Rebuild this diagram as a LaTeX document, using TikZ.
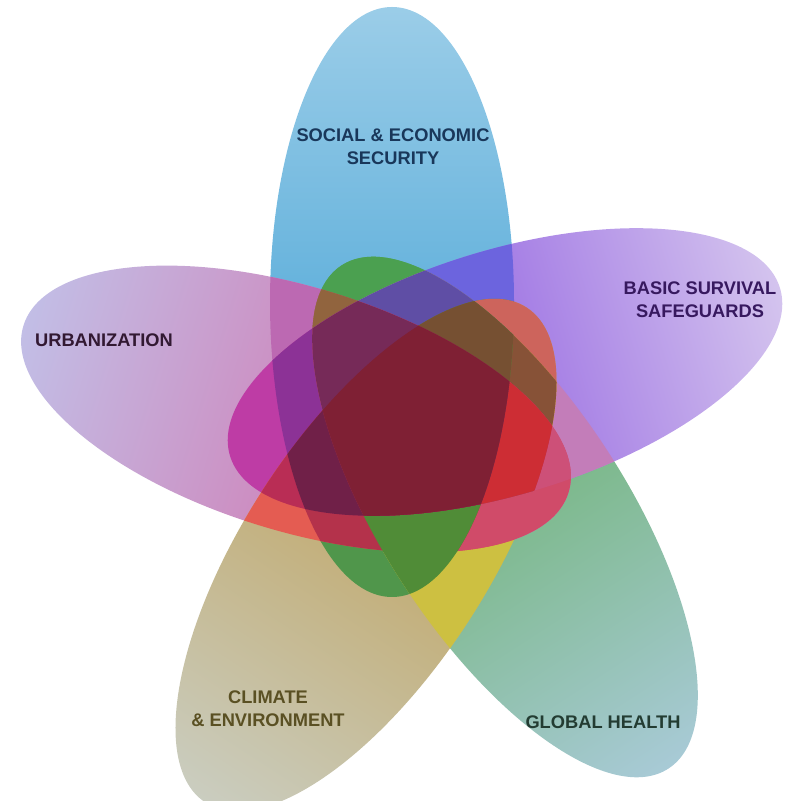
\documentclass[tikz,border=0pt]{standalone}
\usepackage{fontspec}
\setmainfont{Liberation Sans}

% petal colours: inner end, middle, tip
\definecolor{blueIn}{RGB}{70,150,205}
\definecolor{blueMid}{RGB}{100,178,220}
\definecolor{blueTip}{RGB}{155,205,232}
\definecolor{purpleIn}{RGB}{150,80,215}
\definecolor{purpleMid}{RGB}{160,118,228}
\definecolor{purpleTip}{RGB}{212,196,238}
\definecolor{greenIn}{RGB}{90,170,110}
\definecolor{greenMid}{RGB}{125,185,140}
\definecolor{greenTip}{RGB}{168,202,214}
\definecolor{oliveIn}{RGB}{190,160,100}
\definecolor{oliveMid}{RGB}{195,175,122}
\definecolor{oliveTip}{RGB}{202,205,192}
\definecolor{pinkIn}{RGB}{205,100,170}
\definecolor{pinkMid}{RGB}{205,140,192}
\definecolor{pinkTip}{RGB}{194,190,230}

% overlap colours (B blue, P purple, G green, O olive, K pink)
\definecolor{cBP}{RGB}{108,100,222}
\definecolor{cBK}{RGB}{188,105,178}
\definecolor{cBG}{RGB}{75,160,80}
\definecolor{cBO}{RGB}{80,150,75}
\definecolor{cPK}{RGB}{190,60,165}
\definecolor{cPG}{RGB}{195,125,185}
\definecolor{cPO}{RGB}{205,100,92}
\definecolor{cGO}{RGB}{205,192,65}
\definecolor{cKO}{RGB}{228,92,82}
\definecolor{cGK}{RGB}{208,75,105}
\definecolor{cBGK}{RGB}{145,100,62}
\definecolor{cBGP}{RGB}{95,78,165}
\definecolor{cBKP}{RGB}{140,50,150}
\definecolor{cBKO}{RGB}{180,50,75}
\definecolor{cGPO}{RGB}{135,82,55}
\definecolor{cGKP}{RGB}{205,80,120}
\definecolor{cBGO}{RGB}{80,140,55}
\definecolor{cKPO}{RGB}{185,45,85}
\definecolor{cBGPO}{RGB}{118,80,50}
\definecolor{cBKPO}{RGB}{112,32,72}
\definecolor{cGKPO}{RGB}{205,45,52}
\definecolor{cBGKP}{RGB}{118,42,88}
\definecolor{cAll}{RGB}{127,32,52}

\definecolor{textBlue}{RGB}{25,55,90}
\definecolor{textPurple}{RGB}{55,25,95}
\definecolor{textPink}{RGB}{50,25,50}
\definecolor{textOlive}{RGB}{90,80,35}
\definecolor{textGreen}{RGB}{35,60,50}

% shading runs from the inner end (left) to the tip (right)
\pgfdeclarehorizontalshading{blueshade}{100bp}{color(0bp)=(blueIn); color(25bp)=(blueIn); color(50bp)=(blueMid); color(75bp)=(blueTip); color(100bp)=(blueTip)}
\pgfdeclarehorizontalshading{purpleshade}{100bp}{color(0bp)=(purpleIn); color(25bp)=(purpleIn); color(50bp)=(purpleMid); color(75bp)=(purpleTip); color(100bp)=(purpleTip)}
\pgfdeclarehorizontalshading{greenshade}{100bp}{color(0bp)=(greenIn); color(25bp)=(greenIn); color(50bp)=(greenMid); color(75bp)=(greenTip); color(100bp)=(greenTip)}
\pgfdeclarehorizontalshading{oliveshade}{100bp}{color(0bp)=(oliveIn); color(25bp)=(oliveIn); color(50bp)=(oliveMid); color(75bp)=(oliveTip); color(100bp)=(oliveTip)}
\pgfdeclarehorizontalshading{pinkshade}{100bp}{color(0bp)=(pinkIn); color(25bp)=(pinkIn); color(50bp)=(pinkMid); color(75bp)=(pinkTip); color(100bp)=(pinkTip)}

\tikzset{
  petaltext/.style={font=\fontsize{10.4}{13.2}\selectfont\bfseries, align=center}
}

% \petal(centre)(angle)(half length){shading}
\def\petal(#1)(#2)(#3)#4{%
  \begin{scope}[transform canvas={shift={(#1)},rotate=#2}]
    \shade[shading=#4] (0,0) ellipse (#3 and 2.44);
  \end{scope}}

% outlines of the five petals, for clipping
\def\pathB{[rotate around={90:(7.84,9.98)}] (7.84,9.98) ellipse (5.9 and 2.44)}
\def\pathP{[rotate around={17:(10.10,8.58)}] (10.10,8.58) ellipse (5.75 and 2.44)}
\def\pathG{[rotate around={-57:(10.10,5.68)}] (10.10,5.68) ellipse (6.0 and 2.44)}
\def\pathO{[rotate around={-123:(7.32,4.92)}] (7.32,4.92) ellipse (5.9 and 2.44)}
\def\pathK{[rotate around={163:(5.92,7.84)}] (5.92,7.84) ellipse (5.7 and 2.44)}

\begin{document}
\begin{tikzpicture}
	\useasboundingbox (0,0) rectangle (15.72,16.02);
	
	%% petals
	\petal(7.84,9.98)(90)(5.9){blueshade}
	\petal(10.10,5.68)(-57)(6.0){greenshade}
	\petal(10.10,8.58)(17)(5.75){purpleshade}
	\petal(5.92,7.84)(163)(5.7){pinkshade}
	\petal(7.32,4.92)(-123)(5.9){oliveshade}
	
	%% two petals
	\begin{scope}\clip\pathB; \fill[cBP]\pathP; \end{scope}
	\begin{scope}\clip\pathB; \fill[cBK]\pathK; \end{scope}
	\begin{scope}\clip\pathB; \fill[cBG]\pathG; \end{scope}
	\begin{scope}\clip\pathB; \fill[cBO]\pathO; \end{scope}
	\begin{scope}\clip\pathP; \fill[cPK]\pathK; \end{scope}
	\begin{scope}\clip\pathP; \fill[cPG]\pathG; \end{scope}
	\begin{scope}\clip\pathP; \fill[cPO]\pathO; \end{scope}
	\begin{scope}\clip\pathG; \fill[cGO]\pathO; \end{scope}
	\begin{scope}\clip\pathK; \fill[cKO]\pathO; \end{scope}
	\begin{scope}\clip\pathG; \fill[cGK]\pathK; \end{scope}
	
	%% three petals
	\begin{scope}\clip\pathB; \clip\pathG; \fill[cBGK]\pathK; \end{scope}
	\begin{scope}\clip\pathB; \clip\pathG; \fill[cBGP]\pathP; \end{scope}
	\begin{scope}\clip\pathB; \clip\pathK; \fill[cBKP]\pathP; \end{scope}
	\begin{scope}\clip\pathB; \clip\pathK; \fill[cBKO]\pathO; \end{scope}
	\begin{scope}\clip\pathG; \clip\pathP; \fill[cGPO]\pathO; \end{scope}
	\begin{scope}\clip\pathG; \clip\pathK; \fill[cGKP]\pathP; \end{scope}
	\begin{scope}\clip\pathB; \clip\pathG; \fill[cBGO]\pathO; \end{scope}
	\begin{scope}\clip\pathK; \clip\pathP; \fill[cKPO]\pathO; \end{scope}
	
	%% four petals
	\begin{scope}\clip\pathB; \clip\pathG; \clip\pathP; \fill[cBGPO]\pathO; \end{scope}
	\begin{scope}\clip\pathB; \clip\pathK; \clip\pathP; \fill[cBKPO]\pathO; \end{scope}
	\begin{scope}\clip\pathG; \clip\pathK; \clip\pathP; \fill[cGKPO]\pathO; \end{scope}
	\begin{scope}\clip\pathB; \clip\pathG; \clip\pathK; \fill[cBGKP]\pathP; \end{scope}
	
	%% all five
	\begin{scope}\clip\pathB; \clip\pathG; \clip\pathK; \clip\pathP; \fill[cAll]\pathO; \end{scope}
	
	%% labels
	\node[petaltext, text=textBlue] (social) at (7.86,13.08) {SOCIAL \& ECONOMIC\\SECURITY};
	\node[petaltext, text=textPurple] (survival) at (14.0,10.02) {BASIC SURVIVAL\\SAFEGUARDS};
	\node[petaltext, text=textPink] (urban) at (2.08,9.22) {URBANIZATION};
	\node[petaltext, text=textOlive] (climate) at (5.36,1.84) {CLIMATE\\\& ENVIRONMENT};
	\node[petaltext, text=textGreen] (health) at (12.06,1.58) {GLOBAL HEALTH};
	
\end{tikzpicture}
\end{document}
